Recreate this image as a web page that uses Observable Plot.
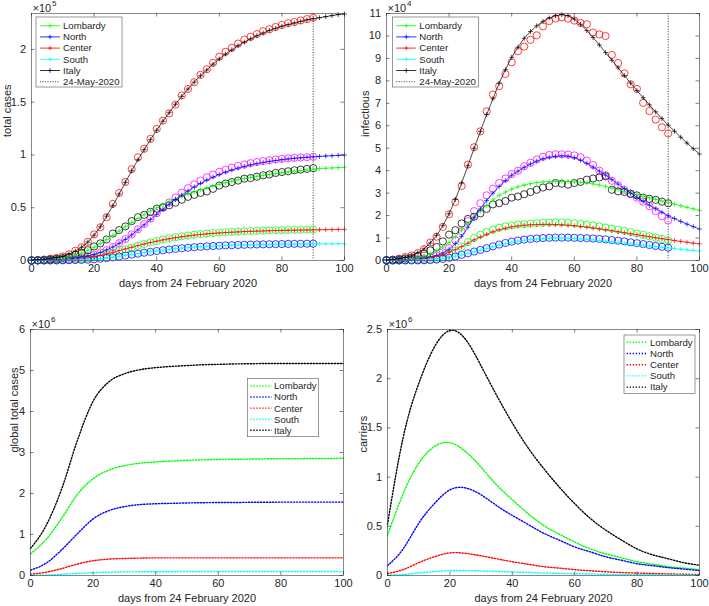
<!DOCTYPE html>
<html><head><meta charset="utf-8">
<script src="https://cdn.jsdelivr.net/npm/d3@7"></script>
<script src="https://cdn.jsdelivr.net/npm/@observablehq/plot@0.6"></script>
<style>
body{margin:0;background:#fff;}
#wrap{position:relative;width:709px;height:606px;overflow:hidden;background:#fff;}
.panel{position:absolute;}
.panel svg{overflow:visible;}
</style></head><body><div id="wrap"></div>
<script>
// ---------- categories / ticks ----------
const fitDays = [0,2,4,6,8,10,12,14,16,18,20,22,24,26,28,30,32,34,36,38,40,42,44,46,48,50,52,54,56,58,60,62,64,66,68,70,72,74,76,78,80,82,84,86,88,90,92,94,96,98,100];
const obsDays = [0,2,4,6,8,10,12,14,16,18,20,22,24,26,28,30,32,34,36,38,40,42,44,46,48,50,52,54,56,58,60,62,64,66,68,70,72,74,76,78,80,82,84,86,88,90];
const modelDays = [0,5,10,15,20,25,30,35,40,45,50,55,60,65,70,75,80,85,90,95,100];
const xTicks = [0,20,40,60,80,100];
const yTicksTotal = [0,0.5,1,1.5,2];
const yTicksInf = [0,1,2,3,4,5,6,7,8,9,10,11];
const yTicksGlobal = [0,1,2,3,4,5,6];
const yTicksCarriers = [0,0.5,1,1.5,2,2.5];
const regions = ["Lombardy","North","Center","South","Italy"];
const cutoffDay = [90];
const cutoffLabel = "24-May-2020";
const xLabel = "days from 24 February 2020";

// ---------- total cases (x 1e5) ----------
const tcFitLombardy = [0.003,0.005,0.008,0.012,0.018,0.026,0.037,0.052,0.071,0.096,
0.126,0.160,0.198,0.238,0.279,0.320,0.360,0.398,0.434,0.468,
0.500,0.530,0.558,0.584,0.608,0.630,0.651,0.671,0.689,0.706,
0.722,0.737,0.751,0.764,0.776,0.787,0.797,0.807,0.816,0.824,
0.832,0.839,0.846,0.852,0.858,0.866,0.870,0.874,0.877,0.880,0.883];
const tcFitNorth = [0.001,0.002,0.003,0.005,0.007,0.010,0.015,0.022,0.031,0.043,
0.058,0.077,0.100,0.128,0.162,0.200,0.243,0.290,0.338,0.388,
0.437,0.486,0.533,0.578,0.620,0.660,0.697,0.731,0.762,0.790,
0.815,0.838,0.858,0.876,0.892,0.906,0.918,0.929,0.939,0.947,
0.955,0.962,0.968,0.973,0.978,0.982,0.986,0.990,0.993,0.996,0.999];
const tcFitCenter = [0.000,0.001,0.001,0.002,0.003,0.005,0.008,0.012,0.018,0.026,
0.036,0.048,0.062,0.077,0.093,0.109,0.125,0.141,0.156,0.170,
0.183,0.195,0.206,0.216,0.225,0.233,0.240,0.246,0.252,0.257,
0.261,0.265,0.268,0.271,0.274,0.276,0.278,0.280,0.282,0.284,
0.285,0.286,0.287,0.288,0.289,0.290,0.291,0.292,0.293,0.294,0.295];
const tcFitSouth = [0.000,0.000,0.001,0.001,0.001,0.002,0.003,0.004,0.006,0.009,
0.013,0.018,0.024,0.031,0.039,0.048,0.057,0.066,0.075,0.083,
0.091,0.098,0.105,0.111,0.117,0.122,0.126,0.130,0.134,0.137,
0.140,0.142,0.144,0.146,0.148,0.149,0.150,0.151,0.152,0.153,
0.154,0.155,0.155,0.156,0.156,0.157,0.157,0.158,0.158,0.158,0.159];
const tcFitItaly = [0.005,0.008,0.012,0.018,0.027,0.040,0.060,0.088,0.125,0.175,
0.240,0.320,0.420,0.520,0.630,0.740,0.850,0.955,1.050,1.145,
1.235,1.320,1.400,1.480,1.555,1.625,1.690,1.750,1.805,1.860,
1.910,1.955,1.995,2.035,2.070,2.100,2.130,2.155,2.180,2.200,
2.220,2.235,2.250,2.265,2.280,2.290,2.300,2.310,2.320,2.330,2.335];

const tcObsItaly = [0.002,0.004,0.009,0.017,0.025,0.039,0.059,0.092,0.125,0.177,
0.247,0.315,0.410,0.536,0.639,0.744,0.865,0.977,1.058,1.152,
1.246,1.325,1.394,1.476,1.564,1.625,1.689,1.759,1.812,1.873,
1.930,1.977,2.015,2.055,2.093,2.119,2.145,2.172,2.191,2.212,
2.231,2.248,2.259,2.274,2.287,2.299];
const tcObsLombardy = [0.002,0.003,0.005,0.010,0.015,0.023,0.034,0.055,0.073,0.098,
0.133,0.162,0.199,0.255,0.288,0.323,0.373,0.410,0.432,0.461,
0.491,0.505,0.523,0.548,0.576,0.603,0.622,0.641,0.654,0.679,
0.710,0.729,0.743,0.757,0.775,0.781,0.794,0.807,0.815,0.829,
0.838,0.845,0.855,0.861,0.868,0.875];
const tcObsNorth = [0.001,0.001,0.002,0.003,0.005,0.008,0.012,0.018,0.027,0.039,
0.055,0.075,0.099,0.128,0.163,0.203,0.247,0.295,0.345,0.396,
0.448,0.500,0.550,0.598,0.643,0.685,0.722,0.757,0.788,0.815,
0.840,0.861,0.880,0.896,0.910,0.922,0.933,0.942,0.950,0.957,
0.963,0.968,0.972,0.976,0.979,0.982];
const tcObsCenter = [0.000,0.000,0.001,0.001,0.002,0.003,0.005,0.008,0.013,0.020,
0.030,0.042,0.056,0.072,0.089,0.106,0.123,0.140,0.156,0.171,
0.185,0.198,0.210,0.220,0.229,0.237,0.244,0.250,0.255,0.260,
0.264,0.268,0.271,0.274,0.277,0.279,0.281,0.283,0.285,0.287,
0.288,0.289,0.290,0.291,0.292,0.293];
const tcObsSouth = [0.000,0.000,0.000,0.001,0.001,0.002,0.003,0.004,0.006,0.008,
0.012,0.017,0.023,0.030,0.038,0.047,0.056,0.065,0.074,0.082,
0.090,0.097,0.104,0.110,0.116,0.121,0.126,0.130,0.134,0.137,
0.140,0.143,0.145,0.147,0.149,0.151,0.152,0.153,0.154,0.155,
0.156,0.157,0.158,0.158,0.159,0.160];

// ---------- infectious (x 1e4) ----------
const inFitItaly = [0.03,0.05,0.08,0.13,0.21,0.34,0.52,0.78,1.12,1.55,
2.08,2.72,3.45,4.22,5.00,5.75,6.50,7.20,7.90,8.50,
9.05,9.50,9.90,10.20,10.45,10.65,10.80,10.90,10.95,10.90,
10.75,10.52,10.24,9.93,9.60,9.26,8.92,8.58,8.24,7.90,
7.57,7.25,6.93,6.62,6.32,6.03,5.76,5.49,5.23,4.98,4.74];
const inFitNorth = [0.005,0.01,0.015,0.025,0.04,0.06,0.09,0.14,0.22,0.34,
0.50,0.75,1.08,1.48,1.90,2.30,2.67,3.00,3.30,3.56,
3.80,3.98,4.15,4.30,4.43,4.53,4.60,4.64,4.66,4.65,
4.58,4.47,4.33,4.16,3.98,3.80,3.60,3.40,3.20,3.00,
2.81,2.63,2.46,2.30,2.15,2.00,1.87,1.74,1.62,1.51,1.40];
const inFitLombardy = [0.01,0.02,0.03,0.05,0.08,0.13,0.20,0.30,0.43,0.60,
0.80,1.05,1.35,1.65,1.95,2.20,2.45,2.70,2.90,3.05,
3.18,3.28,3.36,3.42,3.47,3.50,3.52,3.53,3.53,3.52,
3.50,3.48,3.45,3.41,3.36,3.30,3.23,3.16,3.08,3.00,
2.93,2.86,2.79,2.72,2.65,2.58,2.51,2.44,2.37,2.30,2.23];
const inFitCenter = [0.005,0.008,0.012,0.02,0.03,0.05,0.08,0.12,0.18,0.26,
0.36,0.48,0.62,0.77,0.92,1.05,1.17,1.28,1.37,1.44,
1.50,1.54,1.57,1.59,1.60,1.61,1.61,1.60,1.59,1.57,
1.55,1.52,1.49,1.45,1.41,1.37,1.33,1.28,1.24,1.19,
1.15,1.10,1.06,1.01,0.97,0.93,0.89,0.85,0.81,0.77,0.74];
const inFitSouth = [0.002,0.003,0.005,0.008,0.012,0.02,0.03,0.05,0.075,0.10,
0.14,0.19,0.25,0.32,0.39,0.46,0.54,0.61,0.68,0.75,
0.81,0.86,0.90,0.93,0.96,0.98,0.99,1.00,1.00,0.99,
0.98,0.96,0.94,0.92,0.89,0.86,0.83,0.80,0.77,0.74,
0.71,0.68,0.65,0.62,0.59,0.56,0.53,0.50,0.47,0.45,0.42];

const inObsItaly = [0.022,0.037,0.082,0.158,0.226,0.330,0.506,0.799,1.059,1.496,
2.060,2.606,3.319,4.268,5.042,5.752,6.641,7.388,7.764,8.305,
8.827,9.319,9.526,9.827,10.027,10.429,10.661,10.777,10.824,10.770,
10.685,10.581,10.521,10.155,10.070,9.998,9.153,8.796,8.332,7.846,
7.644,7.019,6.655,6.275,5.932,5.659];
const inObsLombardy = [0.02,0.03,0.05,0.09,0.14,0.20,0.30,0.45,0.60,0.85,
1.15,1.35,1.65,1.85,1.95,2.10,2.30,2.50,2.55,2.65,
2.80,2.85,2.95,3.05,3.15,3.25,3.30,3.45,3.42,3.38,
3.45,3.50,3.60,3.65,3.70,3.75,3.15,3.08,3.05,2.98,
2.90,2.80,2.75,2.70,2.62,2.55];
const inObsNorth = [0.003,0.006,0.01,0.02,0.03,0.05,0.08,0.13,0.22,0.36,
0.55,0.90,1.30,1.75,2.20,2.55,2.90,3.20,3.45,3.65,
3.85,4.00,4.20,4.35,4.50,4.62,4.70,4.73,4.73,4.72,
4.68,4.60,4.45,4.25,4.00,3.80,3.55,3.35,3.15,2.95,
2.80,2.62,2.42,2.20,1.98,1.78];
const inObsCenter = [0.000,0.002,0.004,0.006,0.010,0.015,0.025,0.045,0.08,0.15,
0.30,0.45,0.62,0.82,1.00,1.15,1.27,1.38,1.46,1.52,
1.56,1.60,1.62,1.64,1.66,1.68,1.69,1.70,1.70,1.68,
1.66,1.63,1.60,1.56,1.52,1.47,1.42,1.37,1.32,1.26,
1.20,1.14,1.08,1.02,0.96,0.90];
const inObsSouth = [0.000,0.001,0.002,0.003,0.004,0.005,0.01,0.02,0.04,0.07,
0.12,0.18,0.25,0.32,0.40,0.47,0.55,0.63,0.71,0.78,
0.84,0.89,0.93,0.96,0.98,1.00,1.01,1.02,1.02,1.02,
1.01,1.00,0.99,0.98,0.96,0.94,0.91,0.88,0.85,0.81,
0.77,0.73,0.69,0.65,0.61,0.57];

// ---------- global total cases (x 1e6) ----------
const gtLombardy = [0.53,0.88,1.40,1.98,2.36,2.57,2.68,2.74,2.77,2.79,2.81,2.82,2.83,2.835,2.84,2.845,2.85,2.85,2.855,2.855,2.86];
const gtNorth = [0.13,0.30,0.63,1.02,1.38,1.58,1.68,1.73,1.75,1.76,1.77,1.775,1.78,1.78,1.785,1.785,1.79,1.79,1.79,1.79,1.79];
const gtCenter = [0.03,0.08,0.17,0.28,0.36,0.40,0.415,0.425,0.43,0.43,0.43,0.43,0.43,0.43,0.43,0.43,0.43,0.43,0.43,0.43,0.43];
const gtSouth = [0.005,0.012,0.03,0.05,0.07,0.082,0.088,0.09,0.092,0.093,0.094,0.094,0.095,0.095,0.095,0.095,0.095,0.095,0.095,0.095,0.095];
const gtItaly = [0.66,1.22,2.12,3.30,4.25,4.72,4.92,5.02,5.07,5.10,5.12,5.14,5.15,5.16,5.165,5.17,5.17,5.17,5.17,5.17,5.17];

// ---------- carriers (x 1e6) ----------
const caLombardy = [0.41,0.83,1.14,1.31,1.35,1.26,1.10,0.92,0.77,0.63,0.51,0.42,0.34,0.27,0.22,0.18,0.14,0.115,0.09,0.075,0.06];
const caNorth = [0.10,0.27,0.53,0.73,0.87,0.89,0.82,0.71,0.61,0.52,0.43,0.36,0.29,0.24,0.19,0.155,0.12,0.10,0.08,0.065,0.05];
const caCenter = [0.02,0.06,0.13,0.19,0.23,0.225,0.20,0.17,0.14,0.115,0.09,0.075,0.06,0.048,0.038,0.03,0.025,0.02,0.016,0.013,0.01];
const caSouth = [0.003,0.01,0.025,0.04,0.05,0.05,0.047,0.042,0.036,0.031,0.026,0.022,0.018,0.015,0.012,0.01,0.008,0.007,0.006,0.005,0.004];
const caItaly = [0.52,1.40,1.95,2.32,2.49,2.40,2.13,1.83,1.55,1.30,1.09,0.90,0.73,0.58,0.46,0.36,0.27,0.21,0.17,0.13,0.105];

// ---------- styling ----------
const FONT = '"Liberation Sans", Arial, Helvetica, sans-serif';
const AXIS = "#262626";
const C = {Lombardy:"#00ff00", North:"#0000ff", Center:"#ff0000", South:"#00ffff", Italy:"#000000"};
const DOT = "1.3,1.7";

const rows = (days, vals) => days.map((d, i) => ({day: d, v: vals[i]}));
const plusSym = {draw(ctx, size) { const r = Math.sqrt(size / Math.PI); ctx.moveTo(-r, 0); ctx.lineTo(r, 0); ctx.moveTo(0, -r); ctx.lineTo(0, r); }};

function fitMarks(days, vals, color) {
  const data = rows(days, vals);
  return [
    Plot.line(data, {x: "day", y: "v", stroke: color, strokeWidth: 0.7}),
    Plot.dot(data, {x: "day", y: "v", r: 2.4, symbol: plusSym, stroke: color, fill: "none", strokeWidth: 0.7})
  ];
}
function obsMarks(days, vals, color) {
  return Plot.dot(rows(days, vals), {x: "day", y: "v", r: 3.6, stroke: color, fill: "none", strokeWidth: 0.75});
}
function modelMarks(days, vals, color, curve) {
  return Plot.line(rows(days, vals), {x: "day", y: "v", stroke: color, strokeWidth: 1.4, strokeDasharray: DOT, curve});
}

function panel(cfg) {
  const {left, top, width, height, ml, mr, mt, mb, ymax, yTicks, exponent, ylabel, ylabelDx, marks, legend} = cfg;
  const pw = width - ml - mr, ph = height - mt - mb;
  const tick = {stroke: AXIS, strokeWidth: 0.6};
  const svg = Plot.plot({
    width, height, marginLeft: ml, marginRight: mr, marginTop: mt, marginBottom: mb,
    style: {fontFamily: FONT, fontSize: "11px", color: AXIS, background: "transparent", overflow: "visible"},
    x: {domain: [0, 100]},
    y: {domain: [0, ymax]},
    marks: [
      ...marks,
      Plot.frame({stroke: "#555", strokeWidth: 0.7}),
      Plot.tickX(xTicks, {x: d => d, insetTop: ph - 3.5, ...tick}),
      Plot.tickX(xTicks, {x: d => d, insetBottom: ph - 3.5, ...tick}),
      Plot.tickY(yTicks, {y: d => d, insetRight: pw - 3.5, ...tick}),
      Plot.tickY(yTicks, {y: d => d, insetLeft: pw - 3.5, ...tick}),
      Plot.axisX({ticks: xTicks, tickSize: 0, tickPadding: 3.5, label: null, tickFormat: d => String(d)}),
      Plot.axisY({ticks: yTicks, tickSize: 0, tickPadding: 5.5, label: null, tickFormat: d => String(d)}),
      Plot.text([xLabel], {text: d => d, frameAnchor: "bottom", dy: 23, lineAnchor: "middle", fontSize: 11, fill: AXIS}),
      Plot.text([ylabel], {text: d => d, frameAnchor: "left", dx: ylabelDx, rotate: -90, lineAnchor: "middle", fontSize: 11, fill: AXIS}),
      Plot.text(["×10"], {text: d => d, frameAnchor: "top-left", textAnchor: "start", dx: 1, dy: -5.5, lineAnchor: "middle", fontSize: 11, fill: AXIS}),
      Plot.text([exponent], {text: d => d, frameAnchor: "top-left", textAnchor: "start", dx: 20.5, dy: -10, lineAnchor: "middle", fontSize: 8, fill: AXIS})
    ]
  });
  if (legend) addLegend(svg, legend);
  const div = document.createElement("div");
  div.className = "panel";
  div.style.left = left + "px"; div.style.top = top + "px";
  div.appendChild(svg);
  document.getElementById("wrap").appendChild(div);
}

function addLegend(svg, L) {
  const g = d3.select(svg).append("g").attr("font-family", FONT).attr("font-size", 9.6)
    .attr("fill", AXIS).attr("text-anchor", "start");
  g.append("rect").attr("x", L.x).attr("y", L.y).attr("width", L.w).attr("height", L.h)
    .attr("fill", "white").attr("stroke", "#555").attr("stroke-width", 0.6);
  L.entries.forEach((e, i) => {
    const cy = L.y + L.first + i * L.dy;
    const x0 = L.x + L.lx0, x1 = L.x + L.lx1;
    const ln = g.append("line").attr("x1", x0).attr("x2", x1).attr("y1", cy).attr("y2", cy)
      .attr("stroke", e.color).attr("stroke-width", e.w);
    if (e.dash) ln.attr("stroke-dasharray", e.dash);
    if (e.plus) {
      const xm = (x0 + x1) / 2;
      g.append("path").attr("d", `M${xm - 2.4},${cy}H${xm + 2.4}M${xm},${cy - 2.4}V${cy + 2.4}`)
        .attr("stroke", e.color).attr("stroke-width", 0.7).attr("fill", "none");
    }
    g.append("text").attr("x", L.x + L.tx).attr("y", cy).attr("dy", "0.35em").attr("text-anchor", "start").text(e.label);
  });
}

const topEntries = regions.map(r => ({label: r, color: C[r], w: 0.8, plus: true}))
  .concat([{label: cutoffLabel, color: "#000", w: 0.8, dash: "1,1.5"}]);
const botEntries = regions.map(r => ({label: r, color: C[r], w: 1.4, dash: DOT}));

// Top-left: total cases
panel({
  left: 0, top: 0, width: 354, height: 300, ml: 31, mr: 10, mt: 13, mb: 40,
  ymax: 2.34, yTicks: yTicksTotal, exponent: "5", ylabel: "total cases", ylabelDx: -23.7,
  marks: [
    Plot.ruleX(cutoffDay, {x: d => d, stroke: "#000", strokeWidth: 0.8, strokeDasharray: "1,1.6"}),
    obsMarks(obsDays, tcObsItaly, "#ff0000"),
    obsMarks(obsDays, tcObsNorth, "#ff00ff"),
    obsMarks(obsDays, tcObsLombardy, "#000000"),
    obsMarks(obsDays, tcObsCenter, "#00ff00"),
    obsMarks(obsDays, tcObsSouth, "#0000ff"),
    ...fitMarks(fitDays, tcFitLombardy, C.Lombardy),
    ...fitMarks(fitDays, tcFitNorth, C.North),
    ...fitMarks(fitDays, tcFitCenter, C.Center),
    ...fitMarks(fitDays, tcFitSouth, C.South),
    ...fitMarks(fitDays, tcFitItaly, C.Italy)
  ],
  legend: {x: 36, y: 17, w: 86, h: 70, first: 8.7, dy: 11.2, lx0: 4, lx1: 24, tx: 27, entries: topEntries}
});

// Top-right: infectious
panel({
  left: 354, top: 0, width: 355, height: 300, ml: 32, mr: 10, mt: 13, mb: 40,
  ymax: 11, yTicks: yTicksInf, exponent: "4", ylabel: "infectious", ylabelDx: -21,
  marks: [
    Plot.ruleX(cutoffDay, {x: d => d, stroke: "#000", strokeWidth: 0.8, strokeDasharray: "1,1.6"}),
    obsMarks(obsDays, inObsItaly, "#ff0000"),
    obsMarks(obsDays, inObsNorth, "#ff00ff"),
    obsMarks(obsDays, inObsLombardy, "#000000"),
    obsMarks(obsDays, inObsCenter, "#00ff00"),
    obsMarks(obsDays, inObsSouth, "#0000ff"),
    ...fitMarks(fitDays, inFitLombardy, C.Lombardy),
    ...fitMarks(fitDays, inFitNorth, C.North),
    ...fitMarks(fitDays, inFitCenter, C.Center),
    ...fitMarks(fitDays, inFitSouth, C.South),
    ...fitMarks(fitDays, inFitItaly, C.Italy)
  ],
  legend: {x: 38.3, y: 17, w: 86, h: 70, first: 8.7, dy: 11.2, lx0: 4, lx1: 24, tx: 27, entries: topEntries}
});

// Bottom-left: global total cases
panel({
  left: 0, top: 300, width: 354, height: 306, ml: 30, mr: 11, mt: 29, mb: 31,
  ymax: 6, yTicks: yTicksGlobal, exponent: "6", ylabel: "global total cases", ylabelDx: -16,
  marks: [
    modelMarks(modelDays, gtLombardy, C.Lombardy, "monotone-x"),
    modelMarks(modelDays, gtNorth, C.North, "monotone-x"),
    modelMarks(modelDays, gtCenter, C.Center, "monotone-x"),
    modelMarks(modelDays, gtSouth, C.South, "monotone-x"),
    modelMarks(modelDays, gtItaly, C.Italy, "monotone-x")
  ],
  legend: {x: 247.3, y: 78.3, w: 71, h: 58.4, first: 7.7, dy: 11.07, lx0: 3, lx1: 24.4, tx: 26.7, entries: botEntries}
});

// Bottom-right: carriers
panel({
  left: 354, top: 300, width: 355, height: 306, ml: 33, mr: 10, mt: 29, mb: 31,
  ymax: 2.5, yTicks: yTicksCarriers, exponent: "6", ylabel: "carriers", ylabelDx: -23.7,
  marks: [
    modelMarks(modelDays, caLombardy, C.Lombardy, "natural"),
    modelMarks(modelDays, caNorth, C.North, "natural"),
    modelMarks(modelDays, caCenter, C.Center, "natural"),
    modelMarks(modelDays, caSouth, C.South, "natural"),
    modelMarks(modelDays, caItaly, C.Italy, "natural")
  ],
  legend: {x: 270, y: 35, w: 71, h: 58.3, first: 7.3, dy: 11.2, lx0: 2.7, lx1: 23.7, tx: 26, entries: botEntries}
});
</script>
</body></html>
